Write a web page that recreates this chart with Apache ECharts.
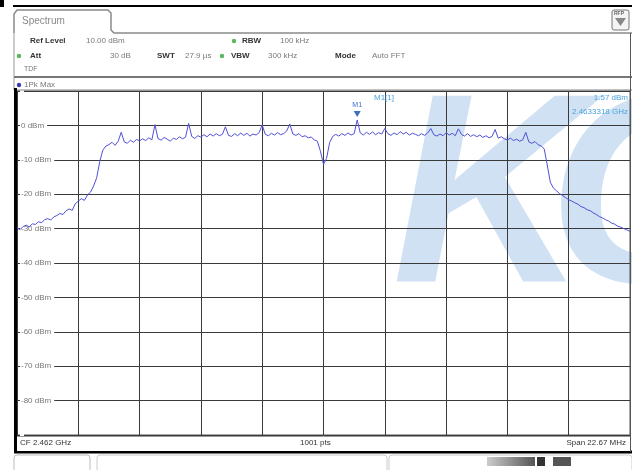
<!DOCTYPE html>
<html>
<head>
<meta charset="utf-8">
<script src="https://cdn.jsdelivr.net/npm/echarts@6/dist/echarts.min.js"></script>
<style>
html,body{margin:0;padding:0;background:#fff;}
#chart{width:632px;height:470px;}
</style>
</head>
<body>
<div id="chart"></div>
<script>
// Trace: 1Pk Max, sampled every 5th of the 1001 sweep points (dBm)
const pointStep = 5;
const traceDbm = [
  -29.8, -30.3, -29.4, -29.0, -29.5, -28.6, -28.8, -28.0, -28.3, -27.4,
  -27.1, -27.5, -26.6, -26.2, -25.6, -25.9, -24.8, -24.3, -24.7, -22.8,
  -22.0, -21.3, -21.8, -20.2, -19.4, -17.6, -15.2, -10.5, -7.2, -6.0,
  -5.6, -4.9, -5.8, -4.6, -2.0, -4.8, -5.2, -4.3, -4.9, -4.1,
  -4.5, -3.9, -4.4, -3.6, -4.2, 0.2, -3.8, -4.3, -3.5, -4.0,
  -4.6, -3.7, -4.1, -3.3, -3.9, -3.4, 0.6, -3.2, -3.8, -3.0,
  -3.4, -2.7, -3.3, -2.5, -3.1, -2.4, -3.0, -2.6, -0.4, -2.9,
  -3.2, -2.4, -3.0, -2.2, -2.9, -2.3, -3.1, -2.5, -2.8, -2.1,
  0.1, -2.6, -3.0, -2.3, -2.8, -2.1, -2.7, -2.4, -1.6, 0.4,
  -2.5, -2.9, -2.4, -3.3, -3.0, -3.6, -3.4, -4.2, -4.6, -7.5,
  -11.3, -9.6, -5.0, -3.2, -2.6, -3.1, -2.4, -2.9, -2.2, -2.8,
  -2.4, 1.57, -2.2, -2.8, -2.0, -2.6, -1.9, -2.7, -2.1, -2.5,
  -0.9, -2.4, -2.9, -2.2, -2.7, -1.8, -2.5, -2.0, -2.8, -2.3,
  -2.6, -3.0, -2.4, -2.9, -2.2, -0.9, -2.7, -3.1, -2.5, -3.0,
  -2.1, -2.8, -2.3, -3.0, -1.0, -2.6, -3.1, -2.4, -3.2, -2.7,
  -3.3, -2.8, -3.5, -3.0, -3.6, -3.2, -1.2, -3.7, -3.3, -3.9,
  -4.2, -3.7, -4.4, -4.0, -4.6, -4.2, -2.0, -4.8, -5.2, -4.7,
  -5.6, -6.0, -6.8, -11.5, -16.5, -18.2, -19.0, -19.8, -20.4, -21.0,
  -21.6, -22.0, -22.5, -22.9, -23.6, -23.9, -24.5, -24.8, -25.4, -25.9,
  -26.5, -26.9, -27.4, -27.8, -28.4, -28.7, -29.3, -29.6, -30.0, -30.4, -30.8
];
const yMin = -90, yMax = 10, yStep = 10;
const sweepPoints = 1000;
const markerIndex = 111;
const markerLabel = 'M1';
const markerText = 'M1[1]';
const markerLevel = '1.57 dBm';
const markerFreq = '2.4633318 GHz';

const data = traceDbm.map((v, i) => [i * pointStep, v]);

const FONT = 'Liberation Sans, Arial, sans-serif';
const lbl = (x, y, text, opts) => Object.assign({
  type: 'text', z: 10,
  style: Object.assign({x, y, text, fill: '#7a7a7a', font: '8px ' + FONT, verticalAlign: 'middle'}, opts || {})
});
const bold = (x, y, text) => lbl(x, y, text, {fill: '#333', font: 'bold 8px ' + FONT});
const dot = (x, y, c) => ({type: 'circle', z: 10, shape: {cx: x, cy: y, r: 2.2}, style: {fill: c}});

const chart = echarts.init(document.getElementById('chart'), null, {renderer: 'canvas'});
chart.setOption({
  animation: false,
  backgroundColor: '#fff',
  grid: {left: 17, right: 2, top: 91, bottom: 35, show: true, borderColor: '#555', borderWidth: 1, backgroundColor: 'transparent'},
  xAxis: {
    type: 'value', min: 0, max: sweepPoints, interval: 100,
    axisLabel: {show: false}, axisTick: {show: false}, axisLine: {show: false},
    splitLine: {show: true, lineStyle: {color: '#3a3a3a', width: 1}}
  },
  yAxis: {
    type: 'value', min: yMin, max: yMax, interval: yStep,
    axisTick: {show: false}, axisLine: {show: false},
    splitLine: {show: true, lineStyle: {color: '#3a3a3a', width: 1}},
    axisLabel: {
      inside: true, margin: 3, color: '#777', fontSize: 8, fontFamily: FONT,
      backgroundColor: '#fff', padding: [1, 3, 1, 1],
      formatter: v => (v <= 0 && v > yMin) ? v + ' dBm' : ''
    },
    z: 3
  },
  graphic: {elements: [
    // watermark
    {type: 'text', z: -5, silent: true,
     style: {x: 392, y: 72, text: 'K', fill: '#cfe1f2', font: 'italic bold 270px ' + FONT, verticalAlign: 'top'}},
    {type: 'text', z: -5, silent: true,
     style: {x: 548, y: 72, text: 'C', fill: '#cfe1f2', font: 'italic bold 270px ' + FONT, verticalAlign: 'top'}},
    // frame lines
    {type: 'rect', z: 10, shape: {x: 0, y: 0, width: 4, height: 7}, style: {fill: '#000'}},
    {type: 'line', z: 10, shape: {x1: 13, y1: 6, x2: 632, y2: 6}, style: {stroke: '#000', lineWidth: 2}},
    {type: 'polyline', z: 10, shape: {points: [[14, 33], [14, 14], [17, 10], [108, 10], [111, 13], [111, 30], [114, 33], [632, 33]]},
     style: {stroke: '#8a8a8a', lineWidth: 1.5, fill: null}},
    {type: 'line', z: 10, shape: {x1: 14, y1: 33, x2: 14, y2: 90}, style: {stroke: '#999', lineWidth: 1}},
    {type: 'line', z: 10, shape: {x1: 14, y1: 77, x2: 632, y2: 77}, style: {stroke: '#777', lineWidth: 2}},
    {type: 'line', z: 10, shape: {x1: 14, y1: 90, x2: 632, y2: 90}, style: {stroke: '#888', lineWidth: 1}},
    {type: 'rect', z: 10, shape: {x: 14, y: 88, width: 3, height: 365}, style: {fill: '#000'}},
    {type: 'line', z: 10, shape: {x1: 14, y1: 452, x2: 632, y2: 452}, style: {stroke: '#000', lineWidth: 3}},
    {type: 'line', z: 10, shape: {x1: 630.5, y1: 33, x2: 630.5, y2: 452}, style: {stroke: '#555', lineWidth: 1}},
    // top-right icon
    {type: 'rect', z: 10, shape: {x: 612, y: 10, width: 17, height: 20, r: 2}, style: {stroke: '#777', fill: '#f4f4f4', lineWidth: 1}},
    {type: 'polygon', z: 11, shape: {points: [[615, 18], [626, 18], [620.5, 26]]}, style: {fill: '#888'}},
    lbl(614, 14, 'RFP', {font: 'bold 5px ' + FONT, fill: '#666'}),
    // tab label
    lbl(22, 21, 'Spectrum', {fill: '#8a8a8a', font: '10px ' + FONT}),
    // header row 1
    bold(30, 41, 'Ref Level'), lbl(86, 41, '10.00 dBm'),
    dot(234, 41, '#5cb85c'), bold(242, 41, 'RBW'), lbl(280, 41, '100 kHz'),
    // header row 2
    dot(19, 56, '#5cb85c'), bold(30, 56, 'Att'), lbl(110, 56, '30 dB'),
    bold(157, 56, 'SWT'), lbl(185, 56, '27.9 µs'),
    dot(222, 56, '#5cb85c'), bold(231, 56, 'VBW'), lbl(268, 56, '300 kHz'),
    bold(335, 56, 'Mode'), lbl(372, 56, 'Auto FFT'),
    // header row 3
    lbl(24, 69, 'TDF', {font: '7px ' + FONT}),
    // trace label
    dot(19, 85, '#3b3bb8'), lbl(24, 85, '1Pk Max'),
    // marker info
    lbl(374, 98, markerText, {fill: '#4aa3df'}),
    lbl(628, 98, markerLevel, {fill: '#4aa3df', align: 'right'}),
    lbl(628, 112, markerFreq, {fill: '#4aa3df', align: 'right'}),
    // footer
    {type: 'rect', z: 10, shape: {x: 17, y: 436, width: 613, height: 15}, style: {fill: '#fff'}},
    {type: 'line', z: 10, shape: {x1: 17, y1: 436.5, x2: 630, y2: 436.5}, style: {stroke: '#999', lineWidth: 1}},
    lbl(20, 443, 'CF 2.462 GHz', {fill: '#333'}),
    lbl(300, 443, '1001 pts', {fill: '#333'}),
    lbl(626, 443, 'Span 22.67 MHz', {fill: '#333', align: 'right'}),
    // bottom bar
    {type: 'rect', z: 10, shape: {x: 14, y: 455, width: 76, height: 20, r: 3}, style: {stroke: '#bbb', fill: '#fff'}},
    {type: 'rect', z: 10, shape: {x: 97, y: 455, width: 290, height: 20, r: 3}, style: {stroke: '#ccc', fill: '#fff'}},
    {type: 'rect', z: 10, shape: {x: 389, y: 455, width: 243, height: 20, r: 3}, style: {stroke: '#ccc', fill: '#fff'}},
    {type: 'rect', z: 11, shape: {x: 487, y: 457, width: 48, height: 9},
     style: {fill: new echarts.graphic.LinearGradient(0, 0, 1, 0, [{offset: 0, color: '#ccc'}, {offset: 1, color: '#555'}])}},
    {type: 'rect', z: 11, shape: {x: 537, y: 457, width: 8, height: 9}, style: {fill: '#333'}},
    {type: 'rect', z: 11, shape: {x: 553, y: 457, width: 18, height: 9}, style: {fill: '#555'}}
  ]},
  series: [{
    type: 'line', data: data, showSymbol: false, z: 5,
    lineStyle: {color: '#5050d8', width: 1},
    markPoint: {
      symbol: 'triangle', symbolRotate: 180, symbolSize: [7, 6], symbolOffset: [0, -6],
      itemStyle: {color: '#3a6fc8'},
      label: {show: true, position: 'top', distance: 2, formatter: markerLabel, color: '#3a6fc8', fontSize: 7, fontFamily: FONT},
      data: [{coord: data[markerIndex]}]
    }
  }]
});
</script>
</body>
</html>
